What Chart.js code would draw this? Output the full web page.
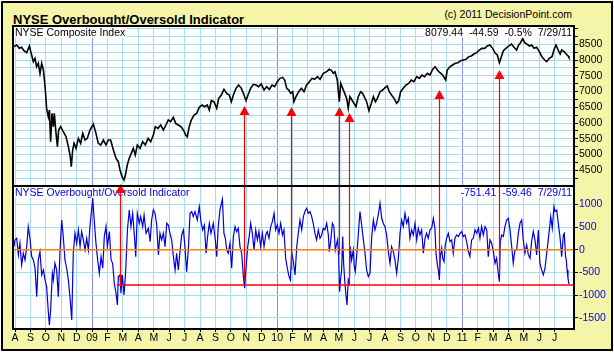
<!DOCTYPE html>
<html>
<head>
<meta charset="utf-8">
<script src="https://cdn.jsdelivr.net/npm/chart.js@4.4.1/dist/chart.umd.min.js"></script>
<style>
  html, body { margin:0; padding:0; background:#fff; }
  #frame { position:absolute; left:1px; top:1px; width:612px; height:350px; box-sizing:border-box;
           border:2px solid #000; background:rgb(245,245,170); }
  #title { position:absolute; left:13px; top:12.5px; font:bold 13px 'Liberation Sans', Arial, sans-serif;
           line-height:13px; color:#000; white-space:nowrap; }
  #copy { position:absolute; right:42px; top:8.6px; font:10.5px 'Liberation Sans', Arial, sans-serif;
          line-height:10.5px; color:#000; white-space:nowrap; }
  canvas { position:absolute; left:0; top:0; }
</style>
</head>
<body>
<div id="frame"></div>
<div id="title">NYSE Overbought/Oversold Indicator</div>
<div id="copy">(c) 2011 DecisionPoint.com</div>
<canvas id="c" width="614" height="353"></canvas>
<script>
// ---- DATA (x = months since 1 Aug 2008) ----
const monthLabels = ['A','S','O','N','D','09','F','M','A','M','J','J',
                     'A','S','O','N','D','10','F','M','A','M','J','J',
                     'A','S','O','N','D','11','F','M','A','M','J','J'];
const yearTickIdx = [5, 17, 29];

const priceMonths = [-0.07,0.11,0.28,0.43,0.58,0.76,0.93,1.08,1.19,1.30,1.40,1.51,1.62,1.73,1.84,1.95,2.05,2.16,2.23,2.31,2.40,2.49,2.55,2.64,2.75,2.83,2.96,3.13,3.31,3.46,3.57,3.65,3.74,3.83,3.96,4.11,4.26,4.39,4.54,4.69,4.86,5.08,5.25,5.40,5.56,5.73,5.90,6.05,6.20,6.38,6.55,6.70,6.81,6.94,7.07,7.16,7.28,7.41,7.54,7.67,7.80,7.93,8.11,8.28,8.45,8.63,8.80,8.97,9.10,9.27,9.45,9.62,9.79,9.94,10.09,10.27,10.42,10.59,10.76,10.92,11.07,11.17,11.30,11.43,11.61,11.78,11.95,12.13,12.30,12.47,12.60,12.73,12.90,13.08,13.21,13.38,13.55,13.73,13.90,14.03,14.16,14.33,14.50,14.68,14.81,14.98,15.11,15.28,15.46,15.63,15.80,15.97,16.15,16.32,16.49,16.67,16.84,17.01,17.18,17.36,17.49,17.62,17.75,17.88,18.01,18.09,18.22,18.40,18.57,18.74,18.91,19.09,19.26,19.43,19.61,19.78,19.99,20.21,20.38,20.53,20.64,20.75,20.90,21.03,21.12,21.25,21.38,21.51,21.61,21.72,21.85,21.98,22.11,22.26,22.41,22.54,22.70,22.80,22.95,23.11,23.24,23.37,23.50,23.67,23.84,24.01,24.14,24.27,24.42,24.58,24.75,24.88,25.01,25.18,25.35,25.53,25.70,25.87,26.05,26.22,26.39,26.56,26.74,26.91,27.08,27.24,27.39,27.56,27.73,27.93,28.03,28.21,28.38,28.55,28.73,28.90,29.07,29.25,29.42,29.59,29.76,29.94,30.11,30.28,30.46,30.63,30.80,30.97,31.15,31.28,31.41,31.54,31.67,31.84,32.01,32.19,32.36,32.53,32.66,32.79,32.92,33.05,33.18,33.35,33.50,33.66,33.83,34.00,34.17,34.35,34.48,34.65,34.82,34.95,35.08,35.24,35.35,35.45,35.61,35.74,35.87,35.92];
const priceValues = [8425,8478,8372,8404,8298,8234,8446,8160,7949,8054,7790,7896,7578,7896,7684,7155,6467,6202,6414,5409,6308,5885,6308,5779,5250,5779,5885,5726,5567,5250,4985,4615,5144,5356,5197,5514,5356,5673,5462,5514,5779,5970,5673,5356,5303,5462,5303,5462,5462,5144,4880,4774,4509,4298,4192,4350,4668,4880,5038,5197,4985,5303,5197,5409,5303,5514,5409,5620,5885,5832,5938,5779,5938,6097,6044,6181,5991,5938,5885,5779,5620,5567,5885,6097,6255,6308,6499,6573,6520,6573,6414,6710,6679,6467,6784,6890,7070,6943,6890,6679,6890,7102,7208,7102,6943,6710,6890,7102,7229,7208,7155,7240,7049,7155,7070,7208,7155,7314,7419,7451,7367,7102,7049,6943,6996,6679,6837,6996,7102,6996,7208,7314,7419,7388,7472,7388,7578,7631,7705,7663,7578,7631,7367,6679,7261,7102,6943,6784,6467,6837,6732,6626,6520,6837,6996,6943,6784,6679,6393,6626,6837,6679,6784,6996,7049,7134,7176,6996,6890,6784,6626,6710,6996,7102,7208,7261,7367,7314,7472,7419,7525,7472,7578,7525,7705,7790,7684,7599,7525,7367,7684,7790,7843,7896,7917,7980,8002,8023,8107,8129,8192,8234,8319,8372,8372,8446,8478,8372,8213,8160,7917,8107,8298,8372,8446,8510,8404,8319,8478,8552,8689,8552,8510,8446,8478,8372,8404,8266,8107,8002,7949,8054,8107,8319,8478,8298,8192,8319,8266,8192,8129,8079];

const oscMonths = [-0.07,0.00,0.11,0.22,0.32,0.43,0.54,0.65,0.76,0.86,0.97,1.08,1.19,1.30,1.41,1.51,1.62,1.73,1.84,1.95,2.05,2.16,2.23,2.31,2.42,2.49,2.59,2.70,2.81,2.92,3.03,3.13,3.24,3.35,3.46,3.57,3.68,3.78,3.89,4.00,4.11,4.22,4.32,4.43,4.54,4.65,4.76,4.86,5.04,5.12,5.25,5.36,5.47,5.58,5.69,5.79,5.90,5.99,6.12,6.23,6.33,6.44,6.55,6.64,6.70,6.81,6.87,6.96,7.07,7.18,7.29,7.41,7.52,7.63,7.74,7.83,7.93,8.06,8.15,8.28,8.37,8.50,8.65,8.76,8.86,8.97,9.08,9.19,9.30,9.40,9.51,9.62,9.73,9.84,9.94,10.05,10.16,10.27,10.38,10.48,10.59,10.70,10.81,10.92,11.02,11.13,11.24,11.35,11.46,11.56,11.67,11.82,11.95,12.06,12.17,12.28,12.39,12.49,12.60,12.71,12.86,12.99,13.08,13.18,13.29,13.45,13.55,13.64,13.73,13.83,13.94,14.05,14.16,14.27,14.37,14.48,14.59,14.70,14.81,14.89,14.98,15.09,15.20,15.28,15.39,15.50,15.61,15.72,15.82,15.93,16.04,16.15,16.26,16.36,16.47,16.58,16.69,16.80,16.90,17.01,17.12,17.23,17.34,17.44,17.55,17.66,17.77,17.86,17.94,18.05,18.16,18.27,18.37,18.48,18.59,18.70,18.80,18.91,19.02,19.13,19.24,19.34,19.45,19.56,19.67,19.78,19.89,19.99,20.10,20.21,20.32,20.38,20.47,20.58,20.68,20.77,20.86,20.92,20.99,21.05,21.12,21.18,21.25,21.31,21.38,21.46,21.53,21.61,21.68,21.74,21.83,21.94,22.00,22.07,22.15,22.26,22.37,22.48,22.59,22.70,22.80,22.91,23.02,23.13,23.24,23.34,23.45,23.56,23.67,23.78,23.88,23.99,24.10,24.21,24.32,24.42,24.53,24.64,24.75,24.86,24.97,25.07,25.18,25.29,25.40,25.51,25.61,25.72,25.83,25.94,26.05,26.15,26.26,26.37,26.48,26.59,26.69,26.80,26.91,27.02,27.13,27.23,27.30,27.39,27.45,27.52,27.58,27.67,27.73,27.82,27.90,27.99,28.10,28.21,28.32,28.42,28.53,28.64,28.75,28.86,28.96,29.07,29.18,29.29,29.40,29.50,29.61,29.72,29.83,29.94,30.05,30.15,30.26,30.37,30.48,30.59,30.69,30.80,30.91,31.02,31.13,31.23,31.34,31.41,31.47,31.56,31.67,31.77,31.88,31.99,32.10,32.21,32.31,32.42,32.53,32.64,32.75,32.86,32.96,33.07,33.18,33.29,33.40,33.50,33.61,33.72,33.83,33.94,34.04,34.15,34.26,34.37,34.48,34.58,34.65,34.74,34.84,34.95,35.02,35.13,35.23,35.34,35.45,35.56,35.62,35.70,35.75,35.80,35.86,35.92];
const oscValues = [69,216,252,-114,142,-334,-78,-224,69,509,252,-151,-224,-407,-1031,-224,-41,-554,-444,-664,-811,-1360,-1654,-1324,-517,-664,-298,-444,-1031,-4,655,289,-224,-407,-664,-1067,-1544,-78,362,142,436,69,399,216,-4,252,-4,509,1132,729,142,-224,-517,-151,-407,289,509,69,399,-224,-298,-737,-957,-1214,-591,-554,-957,-554,-994,-444,436,875,509,802,326,-151,802,582,729,509,765,362,472,179,655,875,802,545,-114,362,216,362,69,582,545,362,216,-151,-444,-78,-444,-41,326,436,69,-481,-4,802,839,729,839,655,949,619,436,545,-78,289,582,362,582,216,-151,509,875,1110,362,252,-4,-78,142,-407,289,509,399,472,69,-78,-591,-847,-407,69,326,582,362,-4,436,216,399,69,362,69,326,399,252,509,619,802,436,545,362,582,326,436,-188,-407,-591,-664,-41,-261,-554,69,362,655,436,729,839,912,802,839,729,582,362,216,436,252,326,472,436,582,326,-41,179,582,509,-4,142,216,-151,-921,-627,-444,289,-298,-664,-994,-1214,-664,-737,69,-224,-4,-371,-481,-151,326,839,545,216,-78,-444,-591,-517,289,655,436,582,765,1022,692,582,509,326,-41,-298,69,-41,-224,-517,-188,362,655,509,802,582,692,252,436,326,582,216,472,326,436,-78,252,362,252,436,472,692,472,-78,-334,-444,-664,-151,32,-188,-261,106,252,362,179,216,-78,252,326,289,362,399,289,326,179,-41,-151,216,252,436,362,472,252,509,326,509,436,-151,216,142,-41,-298,-188,-517,-701,179,326,289,509,655,692,436,69,-298,-4,-4,362,582,655,216,-78,106,-114,-188,179,399,216,-114,436,-298,-444,-554,-407,-78,216,436,729,472,949,839,875,582,289,-151,326,362,-151,-224,-444,-627,-751];

// tick values
const priceGridValues = [4250,4500,4750,5000,5250,5500,5750,6000,6250,6500,6750,7000,7250,7500,7750,8000,8250,8500,8750,9000];
const priceTickLabels = [4500,5000,5500,6000,6500,7000,7500,8000,8500];
const oscTickValues = [-1500,-1000,-500,0,500,1000];

// annotations: buy-signal arrows (month, indicator value at base, price value at tip)
const arrowMonths = [6.81, 14.87, 17.88, 21.03, 21.66, 27.52, 31.41];
const arrowBaseOsc = [-775, -665, -445, -100, -731, -379, -550];
const arrowTipPrice = [4064, 6541, 6509, 6509, 6319, 7049, 7684];
const oversoldLevel = -775;
const oversoldStartMonth = 6.6;

const xMin = -0.13, xMax = 36.25;
const priceMin = 4002, priceMax = 9081;
const oscMin = -1743, oscMax = 1402;

// ---- STYLE ----
const gridBlue = '#A6DCF0';
const yearPurple = '#8A8AF2';
const oscBlue = '#0000DD';
Chart.defaults.font.family = "'Liberation Sans', Arial, sans-serif";
Chart.defaults.font.size = 10.5;

function drawLabel(ctx, text, x, baseline, align, color) {
  ctx.font = "10.5px 'Liberation Sans', Arial, sans-serif";
  const w = ctx.measureText(text).width;
  const left = align === 'right' ? x - w : x;
  ctx.fillStyle = '#fff';
  ctx.fillRect(left - 1, baseline - 9, w + 2, 11);
  ctx.fillStyle = color;
  ctx.textAlign = 'left';
  ctx.textBaseline = 'alphabetic';
  ctx.fillText(text, left, baseline);
}

const overlay = {
  id: 'overlay',
  beforeDraw(chart) {
    const {ctx, chartArea: a} = chart;
    ctx.save();
    ctx.fillStyle = '#fff';
    ctx.fillRect(a.left, a.top, a.right - a.left, a.bottom - a.top);
    ctx.restore();
  },
  afterDatasetsDraw(chart) {
    const {ctx, chartArea: a, scales} = chart;
    const xs = scales.x, yP = scales.yP, yO = scales.yO;
    ctx.save();
    const y0 = yO.getPixelForValue(0);
    ctx.strokeStyle = '#FF8000'; ctx.lineWidth = 1.5;
    ctx.beginPath(); ctx.moveTo(a.left, y0); ctx.lineTo(a.right, y0); ctx.stroke();
    const yt = yO.getPixelForValue(oversoldLevel);
    ctx.strokeStyle = '#FF0000'; ctx.lineWidth = 1.5;
    ctx.beginPath(); ctx.moveTo(xs.getPixelForValue(oversoldStartMonth), yt); ctx.lineTo(a.right, yt); ctx.stroke();
    drawLabel(ctx, 'NYSE Composite Index', a.left + 2, yP.top + 9.7, 'left', '#000');
    drawLabel(ctx, '8079.44  -44.59  -0.5%  7/29/11', a.right - 2, yP.top + 9.7, 'right', '#000');
    drawLabel(ctx, 'NYSE Overbought/Oversold Indicator', a.left + 2, yO.top + 9.5, 'left', oscBlue);
    drawLabel(ctx, '-751.41  -59.46  7/29/11', a.right - 2, yO.top + 9.5, 'right', oscBlue);
    ctx.strokeStyle = '#FF0000'; ctx.fillStyle = '#FF0000'; ctx.lineWidth = 1.2;
    for (let i = 0; i < arrowMonths.length; i++) {
      const x = Math.round(xs.getPixelForValue(arrowMonths[i])) + 0.5;
      const yb = yO.getPixelForValue(arrowBaseOsc[i]);
      const ytip = yP.getPixelForValue(arrowTipPrice[i]);
      ctx.beginPath(); ctx.moveTo(x, yb); ctx.lineTo(x, ytip + 8); ctx.stroke();
      ctx.beginPath(); ctx.moveTo(x, ytip); ctx.lineTo(x - 5, ytip + 9); ctx.lineTo(x + 5, ytip + 9); ctx.closePath(); ctx.fill();
    }
    ctx.strokeStyle = '#000'; ctx.lineWidth = 2;
    ctx.strokeRect(a.left, a.top, a.right - a.left, a.bottom - a.top);
    ctx.beginPath(); ctx.moveTo(a.left, yP.bottom); ctx.lineTo(a.right, yP.bottom); ctx.stroke();
    ctx.restore();
  }
};

new Chart(document.getElementById('c'), {
  type: 'line',
  data: {
    datasets: [
      { label: 'NYSE Composite Index', yAxisID: 'yP',
        data: priceMonths.map((m, i) => ({x: m, y: priceValues[i]})),
        borderColor: '#000', borderWidth: 1.6, pointRadius: 0, tension: 0 },
      { label: 'NYSE Overbought/Oversold Indicator', yAxisID: 'yO',
        data: oscMonths.map((m, i) => ({x: m, y: oscValues[i]})),
        borderColor: oscBlue, borderWidth: 1.2, pointRadius: 0, tension: 0 }
    ]
  },
  options: {
    responsive: false, animation: false, devicePixelRatio: 1,
    layout: { padding: { left: 13, top: 26, right: 0, bottom: 0 } },
    plugins: { legend: { display: false }, tooltip: { enabled: false } },
    scales: {
      x: {
        type: 'linear', position: 'bottom', min: xMin, max: xMax,
        afterBuildTicks: s => { s.ticks = monthLabels.map((_, i) => ({ value: i })); },
        afterFit: s => { s.height = 24; },
        ticks: { autoSkip: false, maxRotation: 0, minRotation: 0, padding: 0, color: '#000',
                 callback: (v, i) => monthLabels[i] },
        grid: { color: c => yearTickIdx.includes(c.index) ? yearPurple : gridBlue,
                lineWidth: 1, drawTicks: true, tickLength: 3, tickColor: '#000' },
        border: { display: false }
      },
      yP: {
        type: 'linear', position: 'right', stack: 'panels', stackWeight: 160,
        min: priceMin, max: priceMax,
        afterBuildTicks: s => { s.ticks = priceGridValues.map(v => ({ value: v })); },
        afterFit: s => { s.width = 40; },
        ticks: { autoSkip: false, color: '#000', padding: 1,
                 callback: v => priceTickLabels.includes(v) ? String(v) : '' },
        grid: { color: gridBlue, lineWidth: 1, tickLength: 4, tickColor: '#000' },
        border: { display: false }
      },
      yO: {
        type: 'linear', position: 'right', stack: 'panels', stackWeight: 143,
        min: oscMin, max: oscMax,
        afterBuildTicks: s => { s.ticks = oscTickValues.map(v => ({ value: v })); },
        afterFit: s => { s.width = 40; },
        ticks: { autoSkip: false, color: oscBlue, padding: 1, callback: v => String(v) },
        grid: { color: gridBlue, lineWidth: 1, tickLength: 4, tickColor: '#000' },
        border: { display: false }
      }
    }
  },
  plugins: [overlay]
});
</script>
</body>
</html>
